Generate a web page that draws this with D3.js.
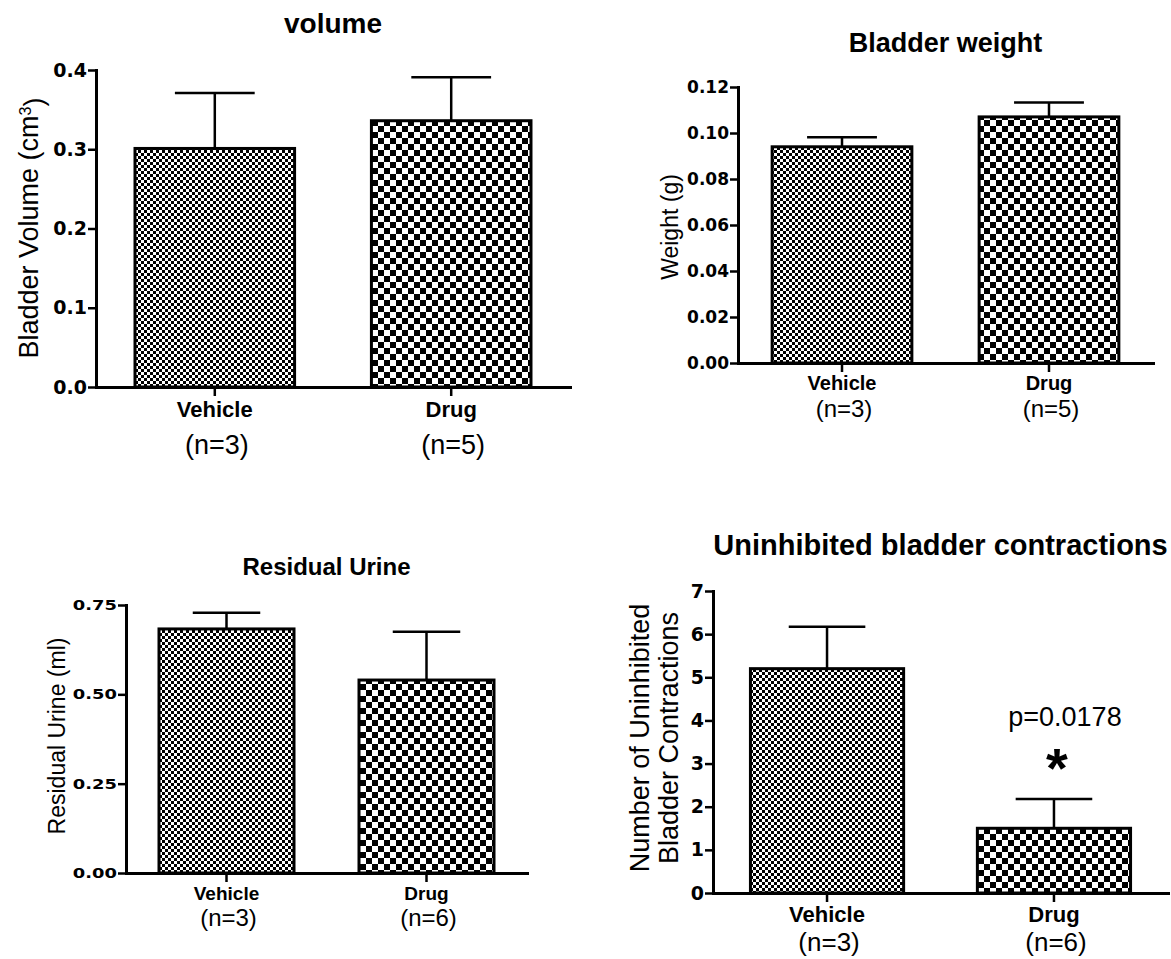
<!DOCTYPE html>
<html>
<head>
<meta charset="utf-8">
<script src="https://cdn.jsdelivr.net/npm/d3@7"></script>
<style>
  body { margin: 0; background: #fff; }
  svg { display: block; }
</style>
</head>
<body>
<svg id="chart" width="1171" height="959"></svg>
<script>
// ---- data (mean + SEM per group)
var categories = ['Vehicle', 'Drug'];

var volumeMean = [0.301, 0.336];
var volumeSem = [0.070, 0.055];
var volumeN = ['(n=3)', '(n=5)'];
var volumeTicks = [0, 0.1, 0.2, 0.3, 0.4];

var weightMean = [0.094, 0.107];
var weightSem = [0.0042, 0.0063];
var weightN = ['(n=3)', '(n=5)'];
var weightTicks = [0, 0.02, 0.04, 0.06, 0.08, 0.10, 0.12];

var residualMean = [0.683, 0.540];
var residualSem = [0.045, 0.135];
var residualN = ['(n=3)', '(n=6)'];
var residualTicks = [0, 0.25, 0.50, 0.75];

var contractionMean = [5.2, 1.5];
var contractionSem = [0.97, 0.68];
var contractionN = ['(n=3)', '(n=6)'];
var contractionTicks = [0, 1, 2, 3, 4, 5, 6, 7];

var FONT = "'Liberation Sans', Arial, sans-serif";
var TICK_FONT = "'DejaVu Sans', sans-serif";

(function() {
    var svg = d3.select('#chart');
    var defs = svg.append('defs');

    // checkerboard fills: fine one for vehicle, coarse one for drug
    function addChecker(id, cell) {
        var p = defs.append('pattern')
            .attr('id', id)
            .attr('patternUnits', 'userSpaceOnUse')
            .attr('width', cell * 2)
            .attr('height', cell * 2);
        p.append('rect').attr('width', cell * 2).attr('height', cell * 2).attr('fill', '#fff');
        p.append('rect').attr('width', cell).attr('height', cell).attr('fill', '#000');
        p.append('rect').attr('x', cell).attr('y', cell).attr('width', cell).attr('height', cell).attr('fill', '#000');
    }
    addChecker('fine', 3);
    addChecker('coarse', 6);
    var fills = ['url(#fine)', 'url(#coarse)'];

    function addText(g, str, x, y, size, weight, stretch) {
        return g.append('text')
            .attr('transform', 'translate(' + x + ',' + y + ') scale(' + (stretch || 1) + ',1)')
            .attr('text-anchor', 'middle')
            .attr('dy', '0.35em')
            .style('font-family', FONT)
            .style('font-size', size + 'px')
            .style('font-weight', weight)
            .text(str);
    }

    var panels = [
        {
            mean: volumeMean, sem: volumeSem, n: volumeN, ticks: volumeTicks, fmt: '.1f', max: 0.4,
            x0: 96, x1: 570, y0: 387, y1: 70,
            title: 'volume', titleY: 23, titleSize: 28,
            tickFont: 19, tickStretch: 1,
            yLabel: ['Bladder Volume (cm'], sup: '3', yLabelX: [29], yLabelY: 228, yLabelSize: 27,
            catY: 409, catSize: 22, nY: 445, nSize: 27
        },
        {
            mean: weightMean, sem: weightSem, n: weightN, ticks: weightTicks, fmt: '.2f', max: 0.12,
            x0: 738, x1: 1153, y0: 363, y1: 87,
            title: 'Bladder weight', titleY: 43, titleSize: 27,
            tickFont: 17, tickStretch: 1,
            yLabel: ['Weight (g)'], yLabelX: [670], yLabelY: 227, yLabelSize: 23,
            catY: 383, catSize: 20, nY: 409, nSize: 24
        },
        {
            mean: residualMean, sem: residualSem, n: residualN, ticks: residualTicks, fmt: '.2f', max: 0.75,
            x0: 126, x1: 527, y0: 873, y1: 605,
            title: 'Residual Urine', titleY: 567, titleSize: 24,
            tickFont: 14, tickStretch: 1.28,
            yLabel: ['Residual Urine (ml)'], yLabelX: [57], yLabelY: 736, yLabelSize: 23,
            catY: 893, catSize: 19, nY: 918, nSize: 24
        },
        {
            mean: contractionMean, sem: contractionSem, n: contractionN, ticks: contractionTicks, fmt: 'd', max: 7,
            x0: 713, x1: 1168, y0: 893, y1: 591,
            title: 'Uninhibited bladder contractions', titleY: 545, titleSize: 29,
            tickFont: 19, tickStretch: 1,
            yLabel: ['Number of Uninhibited', 'Bladder Contractions'], yLabelX: [640, 669], yLabelY: 738, yLabelSize: 27,
            catY: 914, catSize: 22, nY: 942, nSize: 26,
            note: 'p=0.0178'
        }
    ];

    function drawPanel(p) {
        var g = svg.append('g');

        var x = d3.scaleBand()
            .domain(categories)
            .range([p.x0, p.x1])
            .paddingInner(0.325)
            .paddingOuter(0.165);
        var y = d3.scaleLinear()
            .domain([0, p.max])
            .range([p.y0, p.y1]);
        var bw = x.bandwidth();

        // bars
        g.selectAll('rect.bar')
            .data(categories)
            .join('rect')
            .attr('class', 'bar')
            .attr('x', function(d) { return x(d); })
            .attr('y', function(d, i) { return y(p.mean[i]); })
            .attr('width', bw)
            .attr('height', function(d, i) { return y(0) - y(p.mean[i]); })
            .attr('fill', function(d, i) { return fills[i]; })
            .attr('stroke', '#000')
            .attr('stroke-width', 3);

        // error bars (upper half only)
        var err = g.selectAll('g.err')
            .data(categories)
            .join('g')
            .attr('class', 'err')
            .attr('stroke', '#000')
            .attr('stroke-width', 2.5);
        err.append('line')
            .attr('x1', function(d) { return x(d) + bw / 2; })
            .attr('x2', function(d) { return x(d) + bw / 2; })
            .attr('y1', function(d, i) { return y(p.mean[i]); })
            .attr('y2', function(d, i) { return y(p.mean[i] + p.sem[i]); });
        err.append('line')
            .attr('x1', function(d) { return x(d) + bw / 4; })
            .attr('x2', function(d) { return x(d) + bw * 3 / 4; })
            .attr('y1', function(d, i) { return y(p.mean[i] + p.sem[i]); })
            .attr('y2', function(d, i) { return y(p.mean[i] + p.sem[i]); });

        // y axis
        var ya = g.append('g')
            .attr('transform', 'translate(' + p.x0 + ',0)')
            .call(d3.axisLeft(y)
                .tickValues(p.ticks)
                .tickFormat(d3.format(p.fmt))
                .tickSize(8)
                .tickSizeOuter(0)
                .tickPadding(1));
        ya.select('.domain').attr('stroke-width', 3).attr('stroke-linecap', 'square');
        ya.selectAll('.tick line').attr('stroke-width', 2.5);
        ya.selectAll('.tick text')
            .attr('x', -9 / p.tickStretch)
            .attr('transform', 'scale(' + p.tickStretch + ',1)')
            .style('font-family', TICK_FONT)
            .style('font-size', p.tickFont + 'px')
            .style('font-weight', 'bold')
            .attr('fill', '#000');

        // x axis
        var xa = g.append('g')
            .attr('transform', 'translate(0,' + p.y0 + ')')
            .call(d3.axisBottom(x).tickSize(9).tickSizeOuter(0).tickFormat(''));
        xa.select('.domain').attr('stroke-width', 3).attr('stroke-linecap', 'square');
        xa.selectAll('.tick line').attr('stroke-width', 2.5);

        // category + n labels
        categories.forEach(function(c, i) {
            var cx = x(c) + bw / 2;
            addText(g, c, cx, p.catY, p.catSize, 'bold');
            addText(g, p.n[i], cx + 2, p.nY, p.nSize, 'normal');
        });

        // title
        addText(g, p.title, (p.x0 + p.x1) / 2, p.titleY, p.titleSize, 'bold');

        // y label
        p.yLabel.forEach(function(line, k) {
            var t = g.append('text')
                .attr('transform', 'translate(' + p.yLabelX[k] + ',' + p.yLabelY + ') rotate(-90)')
                .attr('text-anchor', 'middle')
                .attr('dy', '0.35em')
                .style('font-family', FONT)
                .style('font-size', p.yLabelSize + 'px')
                .text(line);
            if (p.sup) {
                t.append('tspan').attr('dy', '-0.45em').style('font-size', '0.6em').text(p.sup);
                t.append('tspan').attr('dy', '0.45em').text(')');
            }
        });

        // significance annotation
        if (p.note) {
            var dx = x('Drug') + bw / 2;
            addText(g, p.note, dx + 11, 717, 27, 'normal');
            g.append('text')
                .attr('x', dx + 3)
                .attr('y', 787)
                .attr('text-anchor', 'middle')
                .style('font-family', FONT)
                .style('font-size', '56px')
                .style('font-weight', 'bold')
                .text('*');
        }
    }

    panels.forEach(drawPanel);
}());
</script>
</body>
</html>
